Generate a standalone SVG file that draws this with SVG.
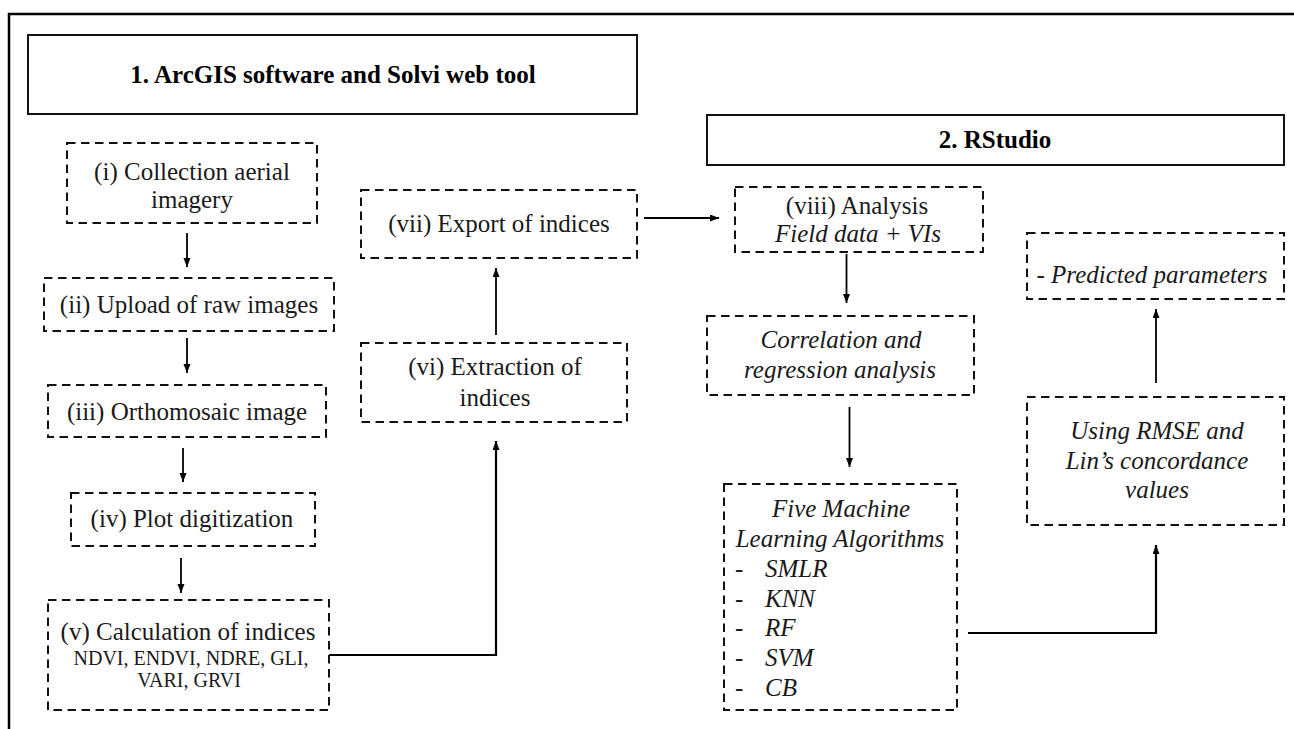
<svg xmlns="http://www.w3.org/2000/svg" width="1294" height="729" viewBox="0 0 1294 729">
<style>
  text { font-family: "Liberation Serif", "Times New Roman", serif; fill: #1a1a1a; }
  .t { font-size: 25px; text-anchor: middle; }
  .i { font-size: 25px; font-style: italic; }
  .c { text-anchor: middle; }
  .s { font-size: 20px; text-anchor: middle; }
  .h { font-size: 25px; font-weight: bold; text-anchor: middle; fill: #000; }
  .hb { fill: #fff; stroke: #111; stroke-width: 2; }
  .db { fill: #fff; stroke: #111; stroke-width: 2; stroke-dasharray: 8.5 5.5; }
  .ln { fill: none; stroke: #000; stroke-width: 1.8; }
  .lt { fill: none; stroke: #000; stroke-width: 2.2; }
</style>
<defs>
  <marker id="ah" markerUnits="userSpaceOnUse" markerWidth="10" markerHeight="8" refX="9" refY="3.5" orient="auto">
    <path d="M0,0 L9,3.5 L0,7 z" fill="#000"/>
  </marker>
</defs>
<rect width="1294" height="729" fill="#fff"/>
<g id="frame">
  <path d="M9,729 V14 H1294" fill="none" stroke="#000" stroke-width="2.5"/>
</g>
<g id="header1">
  <rect class="hb" x="28" y="35" width="609" height="79"/>
  <text class="h" x="333" y="83">1. ArcGIS software and Solvi web tool</text>
</g>
<g id="header2">
  <rect class="hb" x="707" y="115" width="577" height="50"/>
  <text class="h" x="995" y="148">2. RStudio</text>
</g>
<g id="n1">
  <rect class="db" x="67" y="143" width="250" height="80"/>
  <text class="t" x="192" y="180">(i) Collection aerial</text>
  <text class="t" x="192" y="208">imagery</text>
</g>
<g id="n2">
  <rect class="db" x="44" y="278" width="290" height="53"/>
  <text class="t" x="189" y="313">(ii) Upload of raw images</text>
</g>
<g id="n3">
  <rect class="db" x="48" y="385" width="278" height="52"/>
  <text class="t" x="187" y="420">(iii) Orthomosaic image</text>
</g>
<g id="n4">
  <rect class="db" x="71" y="493" width="244" height="53"/>
  <text class="t" x="192" y="527">(iv) Plot digitization</text>
</g>
<g id="n5">
  <rect class="db" x="48" y="600" width="281" height="110"/>
  <text class="t" x="188" y="640">(v) Calculation of indices</text>
  <text class="s" x="191" y="665">NDVI, ENDVI, NDRE, GLI,</text>
  <text class="s" x="189" y="687">VARI, GRVI</text>
</g>
<g id="n6">
  <rect class="db" x="361" y="343" width="266" height="79"/>
  <text class="t" x="495" y="375">(vi) Extraction of</text>
  <text class="t" x="495" y="406">indices</text>
</g>
<g id="n7">
  <rect class="db" x="361" y="190" width="276" height="68"/>
  <text class="t" x="499" y="232">(vii) Export of indices</text>
</g>
<g id="n8">
  <rect class="db" x="735" y="187" width="248" height="65"/>
  <text class="t" x="857" y="214">(viii) Analysis</text>
  <text class="i c" x="858" y="242">Field data + VIs</text>
</g>
<g id="n9">
  <rect class="db" x="707" y="316" width="267" height="79"/>
  <text class="i c" x="841" y="348">Correlation and</text>
  <text class="i c" x="840" y="378">regression analysis</text>
</g>
<g id="n10">
  <rect class="db" x="724" y="484" width="233" height="226"/>
  <text class="i c" x="841" y="517">Five Machine</text>
  <text class="i c" x="840" y="547">Learning Algorithms</text>
  <text class="i" x="735" y="577">-</text>
  <text class="i" x="765" y="577">SMLR</text>
  <text class="i" x="735" y="607">-</text>
  <text class="i" x="765" y="607">KNN</text>
  <text class="i" x="735" y="636">-</text>
  <text class="i" x="765" y="636">RF</text>
  <text class="i" x="735" y="666">-</text>
  <text class="i" x="765" y="666">SVM</text>
  <text class="i" x="735" y="696">-</text>
  <text class="i" x="765" y="696">CB</text>
</g>
<g id="n11">
  <rect class="db" x="1027" y="397" width="257" height="128"/>
  <text class="i c" x="1157" y="439">Using RMSE and</text>
  <text class="i c" x="1157" y="469">Lin’s concordance</text>
  <text class="i c" x="1157" y="498">values</text>
</g>
<g id="n12">
  <rect class="db" x="1027" y="233" width="257" height="66"/>
  <text class="i c" x="1152" y="283">- Predicted parameters</text>
</g>
<g id="connectors">
  <line class="ln" x1="187" y1="233" x2="187" y2="267" marker-end="url(#ah)"/>
  <line class="ln" x1="187" y1="338" x2="187" y2="373" marker-end="url(#ah)"/>
  <line class="ln" x1="183" y1="448" x2="183" y2="482" marker-end="url(#ah)"/>
  <line class="ln" x1="181" y1="558" x2="181" y2="593" marker-end="url(#ah)"/>
  <path class="lt" d="M329,655 H496 V441" marker-end="url(#ah)"/>
  <line class="ln" x1="496" y1="335" x2="496" y2="268" marker-end="url(#ah)"/>
  <line class="ln" x1="644" y1="218" x2="719" y2="218" marker-end="url(#ah)"/>
  <line class="ln" x1="846.5" y1="254" x2="846.5" y2="303" marker-end="url(#ah)"/>
  <line class="ln" x1="849.5" y1="407" x2="849.5" y2="467" marker-end="url(#ah)"/>
  <path class="lt" d="M968,633 H1156 V545" marker-end="url(#ah)"/>
  <line class="ln" x1="1156" y1="383" x2="1156" y2="309" marker-end="url(#ah)"/>
</g>
</svg>
